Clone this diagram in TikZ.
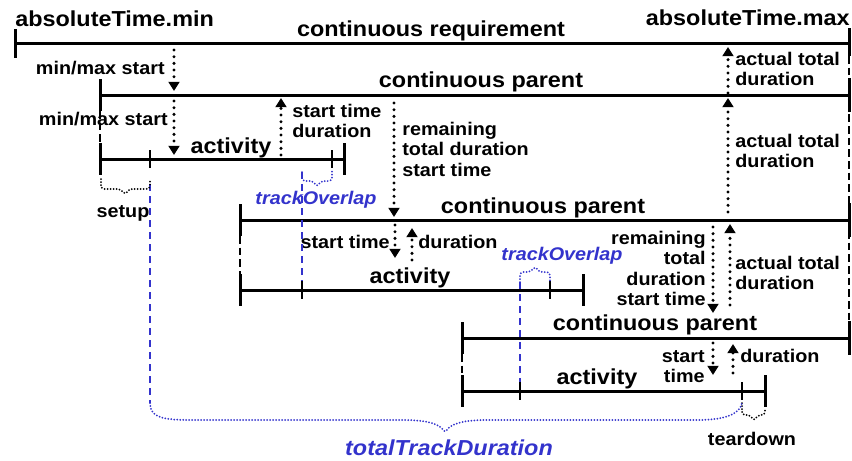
\documentclass[tikz,border=0pt]{standalone}
\usepackage{fontspec}
\setmainfont{Liberation Sans}[FakeStretch=1.08]
\usetikzlibrary{arrows.meta}
\definecolor{trackblue}{RGB}{51,51,204}
\newcommand\rows[2]{\begin{tabular}[t]{@{}#1@{}}#2\end{tabular}}

\begin{document}
\begin{tikzpicture}[x=0.6pt,y=-0.6pt,
  bar/.style={line width=1.8pt},
  endtick/.style={line width=1.8pt},
  midtick/.style={line width=1.5pt},
  joint/.style={line width=1.2pt,dash pattern=on 4.5pt off 2.5pt},
  guide/.style={trackblue,line width=1.2pt,dash pattern=on 4.2pt off 3pt},
  dotarrow/.style={line width=2pt,line cap=round,dash pattern=on 0pt off 4pt,
    -{Triangle[width=6.5pt,length=5.5pt]}},
  dotbrace/.style={line width=1.2pt,line cap=round,dash pattern=on 0pt off 1.8pt,rounded corners=2pt},
  big/.style={font=\fontsize{13}{15}\selectfont\bfseries,inner sep=0pt},
  small/.style={font=\fontsize{11}{12.3}\selectfont\bfseries,inner sep=0pt},
  bluesmall/.style={text=trackblue,font=\fontsize{11}{12.3}\selectfont\bfseries\itshape,inner sep=0pt},
  bluebig/.style={text=trackblue,font=\fontsize{13}{15}\selectfont\bfseries\itshape,inner sep=0pt},
]
\useasboundingbox (0,0) rectangle (852,461);

% ---------- labels ----------
\node[big,anchor=base west] (tmin) at (15,26) {absoluteTime.min};
\node[big,anchor=base] (req) at (431,36) {continuous requirement};
\node[big,anchor=base east] (tmax) at (850,25) {absoluteTime.max};
\node[small,anchor=base east] (mm1) at (165,74) {min/max start};
\node[big,anchor=base] (par1) at (481,87) {continuous parent};
\node[small,anchor=base east] (mm2) at (168,125) {min/max start};
\node[big,anchor=base] (act1) at (231,153) {activity};
\node[small,anchor=base west] (sd1) at (292,117) {\rows{l}{start time\\duration}};
\node[small,anchor=base west] (rem1) at (402,135) {\rows{l}{remaining\\total duration\\start time}};
\node[small,anchor=base west] (atd1) at (735,65) {\rows{l}{actual total\\duration}};
\node[small,anchor=base west] (atd2) at (735,147) {\rows{l}{actual total\\duration}};
\node[bluesmall,anchor=base] (ov1) at (316,204) {trackOverlap};
\node[small,anchor=base] (setup) at (123,217) {setup};
\node[big,anchor=base] (par2) at (543,213) {continuous parent};
\node[small,anchor=base east] (st2) at (390,248) {start time};
\node[small,anchor=base west] (du2) at (418,248) {duration};
\node[big,anchor=base] (act2) at (410,283) {activity};
\node[bluesmall,anchor=base] (ov2) at (562,260) {trackOverlap};
\node[small,anchor=base east] (rem2) at (706,244) {\rows{r}{remaining\\total\\duration\\start time}};
\node[small,anchor=base west] (atd3) at (735,269) {\rows{l}{actual total\\duration}};
\node[big,anchor=base] (par3) at (655,330) {continuous parent};
\node[small,anchor=base east] (st3) at (705,362) {\rows{r}{start\\time}};
\node[small,anchor=base west] (du3) at (740,362) {duration};
\node[big,anchor=base] (act3) at (597,384) {activity};
\node[small,anchor=base] (tear) at (752,445) {teardown};
\node[bluebig,anchor=base] (total) at (449,455) {totalTrackDuration};

% ---------- dashed joints between stacked bar ends ----------
\draw[joint] (849,56) -- (849,322);
\draw[joint] (100,111) -- (100,143);
\draw[joint] (240,236) -- (240,274);
\draw[joint] (462,354) -- (462,375);

% ---------- continuous requirement ----------
\draw[bar] (15,43) -- (849,43);
\draw[endtick] (15,29) -- (15,58);
\draw[endtick] (849,28) -- (849,56);

% ---------- first parent and activity ----------
\draw[bar] (100,95) -- (849,95);
\draw[endtick] (100,79) -- (100,111);
\draw[endtick] (849,78) -- (849,112);
\draw[bar] (100,159) -- (344,159);
\draw[endtick] (100,143) -- (100,175);
\draw[midtick] (150,150) -- (150,168);
\draw[midtick] (332,150) -- (332,168);
\draw[endtick] (344,143) -- (344,175);

% ---------- second parent and activity ----------
\draw[bar] (240,220) -- (849,220);
\draw[endtick] (240,204) -- (240,236);
\draw[endtick] (849,203) -- (849,237);
\draw[bar] (240,290) -- (583,290);
\draw[endtick] (240,274) -- (240,306);
\draw[midtick] (302,281) -- (302,299);
\draw[midtick] (550,281) -- (550,299);
\draw[endtick] (583,274) -- (583,306);

% ---------- third parent and activity ----------
\draw[bar] (462,338) -- (849,338);
\draw[endtick] (462,322) -- (462,354);
\draw[endtick] (849,321) -- (849,355);
\draw[bar] (462,391) -- (765,391);
\draw[endtick] (462,375) -- (462,407);
\draw[midtick] (520,382) -- (520,400);
\draw[midtick] (742,382) -- (742,400);
\draw[endtick] (765,375) -- (765,407);

% ---------- dotted time arrows ----------
\draw[dotarrow] (174,50) -- (174,91);
\draw[dotarrow] (174,101) -- (174,155);
\draw[dotarrow] (281,155) -- (281,98);
\draw[dotarrow] (394,103) -- (394,217);
\draw[dotarrow] (395,225) -- (395,258);
\draw[dotarrow] (412,260) -- (412,228);
\draw[dotarrow] (728,93) -- (728,47);
\draw[dotarrow] (728,212) -- (728,98);
\draw[dotarrow] (730,305) -- (730,224);
\draw[dotarrow] (713,227) -- (713,313);
\draw[dotarrow] (713,343) -- (713,375);
\draw[dotarrow] (733,373) -- (733,344);

% ---------- blue overlap guides ----------
\draw[guide] (302,172) -- (302,281);
\draw[guide] (520,282) -- (520,382);
\draw[guide] (150,184) -- (150,403);

% ---------- braces ----------
\draw[dotbrace] (101,179) |- (121,189) -- (125,195) -- (129,189) -| (150,179);
\draw[dotbrace] (742,403) |- (750,415) -- (754,421) -- (758,415) -| (765,409);
\draw[dotbrace,trackblue] (302,172) |- (313,181) -- (317,187) -- (321,181) -| (332,170);
\draw[dotbrace,trackblue] (520,282) |- (531,272) -- (535,266) -- (539,272) -| (550,282);
\draw[dotbrace,trackblue] (150,403) .. controls (150,416) and (160,420) .. (192,420)
  -- (400,420) .. controls (430,420) and (440,425) .. (445,433)
  .. controls (450,425) and (460,420) .. (490,420)
  -- (694,420) .. controls (730,420) and (740,412) .. (742,403);
\end{tikzpicture}
\end{document}
